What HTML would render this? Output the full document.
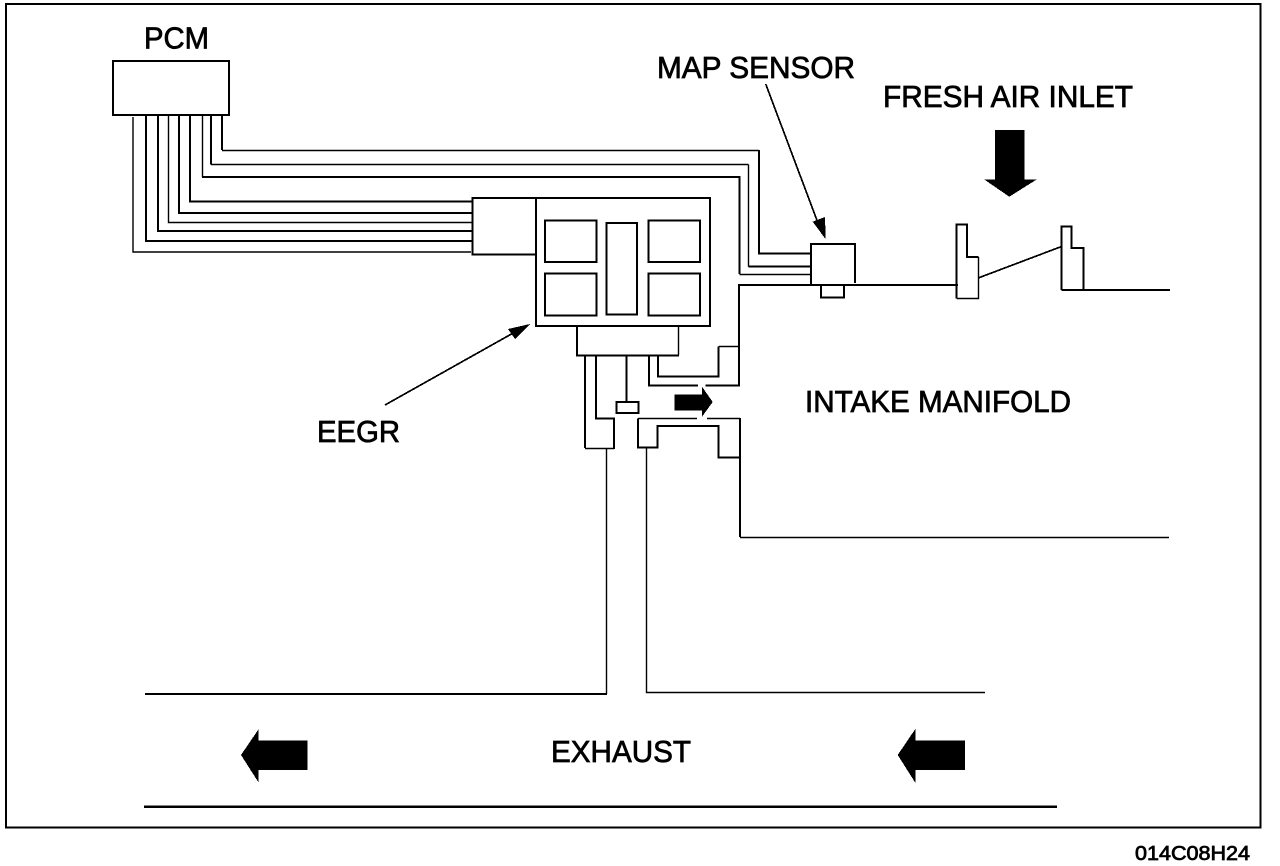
<!DOCTYPE html>
<html>
<head>
<meta charset="utf-8">
<style>
html,body{margin:0;padding:0;background:#fff;width:1280px;height:866px;overflow:hidden}
svg{display:block}
text{font-family:"Liberation Sans",sans-serif;fill:#000;stroke:#000;stroke-width:.75px}
.t{fill:none;stroke:#000;stroke-width:1.4}
.m{fill:none;stroke:#000;stroke-width:2;shape-rendering:crispEdges}
.k{fill:none;stroke:#000;stroke-width:2.2;shape-rendering:crispEdges}
.d{fill:none;stroke:#000;stroke-width:1.7;shape-rendering:crispEdges}
polygon{shape-rendering:crispEdges}
</style>
</head>
<body>
<svg width="1280" height="866" viewBox="0 0 1280 866" xmlns="http://www.w3.org/2000/svg">
<rect x="6" y="4" width="1254.5" height="823.500" class="k"/>

<!-- PCM -->
<rect x="113" y="61" width="116" height="54" class="m"/>
<!-- PCM wires to connector -->
<path class="t" d="M133 117V252H471"/>
<path class="m" d="M146 115V241H472"/>
<path class="m" d="M158 115V231H472"/>
<path class="t" d="M168.500 115V222.500H472"/>
<path class="m" d="M179 115V213H472"/>
<path class="m" d="M190 115V201.500H472"/>
<!-- PCM wires to MAP -->
<path class="t" d="M202.500 115V177" />
<path class="m" d="M202 177H739.500V274" />
<path class="t" d="M739.500 274.500H811"/>
<path class="m" d="M211 115V164.500" />
<path class="t" d="M211 164.500H748.500"/>
<path class="t" d="M748.500 164.500V266.700"/>
<path class="m" d="M748.700 266.700H811"/>
<path class="m" d="M222 115V150"/>
<path class="t" d="M222 150.500H759"/>
<path class="m" d="M759 150V253.700H811"/>

<!-- connector -->
<rect x="472.700" y="198" width="63.300" height="56.700" class="m"/>
<!-- EEGR -->
<rect x="536" y="198" width="174" height="128" class="m"/>
<rect x="545" y="220.700" width="51.700" height="41.300" class="m"/>
<rect x="545" y="273.700" width="51.700" height="42" class="m"/>
<rect x="606.700" y="223" width="30.300" height="91.700" class="m"/>
<rect x="648.700" y="220.700" width="51.300" height="41.300" class="m"/>
<rect x="648.700" y="273.700" width="51.300" height="42" class="m"/>

<!-- lower box -->
<path class="m" d="M577 326V355.700H679"/>
<path class="t" d="M678.500 326V355"/>
<path class="m" d="M585 356V448"/>
<path class="t" d="M585 448.500H614"/>
<path class="m" d="M596 356V418.700H614V449"/>
<path class="t" d="M606.500 449V694"/>
<path class="m" d="M626.700 356V402"/>
<rect x="616.300" y="402" width="22.400" height="11" class="m"/>
<path class="m" d="M649 356V385.700H698"/>
<path class="m" d="M705.700 385.700H739V285"/>
<path class="m" d="M658 356V376.700H718.700V346.700"/>
<path class="t" d="M718.700 346.500H739"/>

<!-- arrow centre -->
<polygon points="674.300,394.300 702,394.300 702,386.700 712.700,402 702,416.700 702,410.700 674.300,410.700" fill="#000"/>

<!-- lower duct -->
<path class="t" d="M638 418.500H697M707 418.500H740"/>
<path class="m" d="M638 418.300V447.300H657.300V426H718.700V457.700H740"/>
<path class="m" d="M740 418V537"/>
<path class="t" d="M740 537.500H1169"/>
<path class="t" d="M646.500 448V692.500H985"/>

<!-- exhaust -->
<path class="k" d="M145 694H607"/>
<path class="k" d="M144 806.700H1057"/>
<polygon points="241,755 258.700,729 258.700,740.700 307.700,740.700 307.700,770 258.700,770 258.700,782.700" fill="#000"/>
<polygon points="897.700,755 915.300,729 915.300,740.700 965,740.700 965,770 915.300,770 915.300,782.700" fill="#000"/>

<!-- MAP sensor -->
<path class="m" d="M811 285V244H855V283"/>
<path class="m" d="M739 386V285H958"/>
<path class="m" d="M821 285V297.700H844V285"/>
<path class="d" d="M765.700 84L818 223"/>
<polygon points="825.700,239.300 812.700,221.700 825,217" fill="#000"/>

<!-- EEGR arrow -->
<path class="d" d="M385 405L515 332"/>
<polygon points="530,324 508,329 515,339" fill="#000"/>

<!-- flaps -->
<path class="m" d="M956.700 298.700V224.700H967V257H978.700"/>
<path class="t" d="M956.700 298.500H978.500V257"/>
<path class="d" d="M979 277.700L1061 246.700"/>
<path class="m" d="M1061.700 290V226.700H1071.300V248H1083.300V290"/>
<path class="m" d="M1061.700 290H1170"/>

<!-- inlet arrow -->
<polygon points="995,130 1024.700,130 1024.700,179.300 1037,179.300 1009.300,196.700 984,179.300 995,179.300" fill="#000"/>

<!-- labels -->
<text x="144" y="48.500" font-size="31" textLength="65" lengthAdjust="spacingAndGlyphs">PCM</text>
<text x="657" y="78" font-size="31" textLength="198" lengthAdjust="spacingAndGlyphs">MAP SENSOR</text>
<text x="883" y="107" font-size="31" textLength="250" lengthAdjust="spacingAndGlyphs">FRESH AIR INLET</text>
<text x="805" y="412" font-size="31" textLength="266" lengthAdjust="spacingAndGlyphs">INTAKE MANIFOLD</text>
<text x="317" y="442" font-size="31" textLength="83" lengthAdjust="spacingAndGlyphs">EEGR</text>
<text x="551" y="762" font-size="31" textLength="140" lengthAdjust="spacingAndGlyphs">EXHAUST</text>
<text x="1135" y="860" font-size="20" textLength="115" lengthAdjust="spacingAndGlyphs">014C08H24</text>
</svg>
</body>
</html>
